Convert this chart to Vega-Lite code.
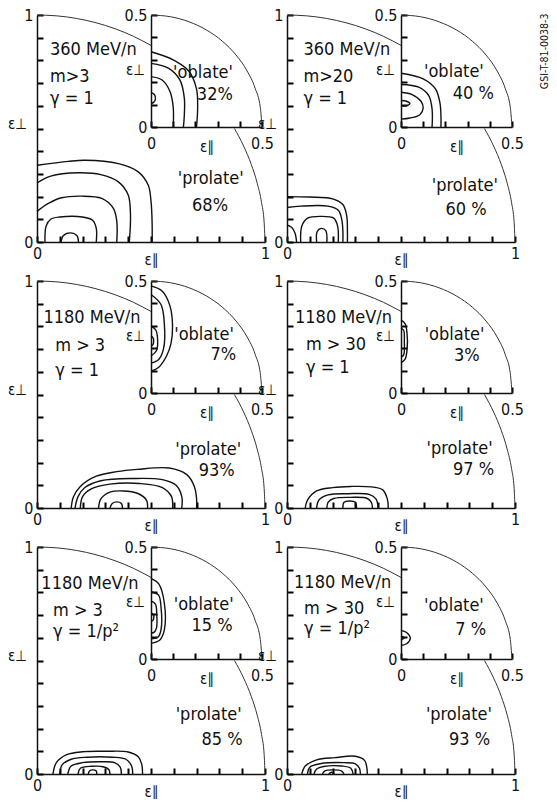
{
"$schema": "https://vega.github.io/schema/vega-lite/v6.json",
"background": "white",
"padding": {"left": 7, "top": 7, "right": 0, "bottom": 0},
"config": {"view": {"stroke": null}, "header": {"labels": false, "title": null, "labelFontSize": 0, "labelPadding": 0, "titlePadding": 0}, "axis": {"ticks": true, "tickColor": "#000", "tickWidth": 2, "tickSize": -6}},
"data": {"values": [
{"p":1,"k":"a","c":"u","i":0,"x":0,"y":1},{"p":1,"k":"a","c":"u","i":1,"x":0.0872,"y":0.9962},{"p":1,"k":"a","c":"u","i":2,"x":0.1736,"y":0.9848},{"p":1,"k":"a","c":"u","i":3,"x":0.2588,"y":0.9659},{"p":1,"k":"a","c":"u","i":4,"x":0.342,"y":0.9397},{"p":1,"k":"a","c":"u","i":5,"x":0.4226,"y":0.9063},{"p":1,"k":"a","c":"u","i":6,"x":0.5,"y":0.866},
{"p":1,"k":"a","c":"l","i":0,"x":0.866,"y":0.5},{"p":1,"k":"a","c":"l","i":1,"x":0.9063,"y":0.4226},{"p":1,"k":"a","c":"l","i":2,"x":0.9397,"y":0.342},{"p":1,"k":"a","c":"l","i":3,"x":0.9659,"y":0.2588},{"p":1,"k":"a","c":"l","i":4,"x":0.9848,"y":0.1736},{"p":1,"k":"a","c":"l","i":5,"x":0.9962,"y":0.0872},{"p":1,"k":"a","c":"l","i":6,"x":1,"y":0},
{"p":1,"k":"b","c":"r","i":0,"x":0,"y":0.5},{"p":1,"k":"b","c":"r","i":1,"x":0.0868,"y":0.4924},{"p":1,"k":"b","c":"r","i":2,"x":0.171,"y":0.4698},{"p":1,"k":"b","c":"r","i":3,"x":0.25,"y":0.433},{"p":1,"k":"b","c":"r","i":4,"x":0.3214,"y":0.383},{"p":1,"k":"b","c":"r","i":5,"x":0.383,"y":0.3214},{"p":1,"k":"b","c":"r","i":6,"x":0.433,"y":0.25},{"p":1,"k":"b","c":"r","i":7,"x":0.4698,"y":0.171},{"p":1,"k":"b","c":"r","i":8,"x":0.4924,"y":0.0868},{"p":1,"k":"b","c":"r","i":9,"x":0.5,"y":0},
{"p":2,"k":"a","c":"u","i":0,"x":0,"y":1},{"p":2,"k":"a","c":"u","i":1,"x":0.0872,"y":0.9962},{"p":2,"k":"a","c":"u","i":2,"x":0.1736,"y":0.9848},{"p":2,"k":"a","c":"u","i":3,"x":0.2588,"y":0.9659},{"p":2,"k":"a","c":"u","i":4,"x":0.342,"y":0.9397},{"p":2,"k":"a","c":"u","i":5,"x":0.4226,"y":0.9063},{"p":2,"k":"a","c":"u","i":6,"x":0.5,"y":0.866},
{"p":2,"k":"a","c":"l","i":0,"x":0.866,"y":0.5},{"p":2,"k":"a","c":"l","i":1,"x":0.9063,"y":0.4226},{"p":2,"k":"a","c":"l","i":2,"x":0.9397,"y":0.342},{"p":2,"k":"a","c":"l","i":3,"x":0.9659,"y":0.2588},{"p":2,"k":"a","c":"l","i":4,"x":0.9848,"y":0.1736},{"p":2,"k":"a","c":"l","i":5,"x":0.9962,"y":0.0872},{"p":2,"k":"a","c":"l","i":6,"x":1,"y":0},
{"p":2,"k":"b","c":"r","i":0,"x":0,"y":0.5},{"p":2,"k":"b","c":"r","i":1,"x":0.0868,"y":0.4924},{"p":2,"k":"b","c":"r","i":2,"x":0.171,"y":0.4698},{"p":2,"k":"b","c":"r","i":3,"x":0.25,"y":0.433},{"p":2,"k":"b","c":"r","i":4,"x":0.3214,"y":0.383},{"p":2,"k":"b","c":"r","i":5,"x":0.383,"y":0.3214},{"p":2,"k":"b","c":"r","i":6,"x":0.433,"y":0.25},{"p":2,"k":"b","c":"r","i":7,"x":0.4698,"y":0.171},{"p":2,"k":"b","c":"r","i":8,"x":0.4924,"y":0.0868},{"p":2,"k":"b","c":"r","i":9,"x":0.5,"y":0},
{"p":3,"k":"a","c":"u","i":0,"x":0,"y":1},{"p":3,"k":"a","c":"u","i":1,"x":0.0872,"y":0.9962},{"p":3,"k":"a","c":"u","i":2,"x":0.1736,"y":0.9848},{"p":3,"k":"a","c":"u","i":3,"x":0.2588,"y":0.9659},{"p":3,"k":"a","c":"u","i":4,"x":0.342,"y":0.9397},{"p":3,"k":"a","c":"u","i":5,"x":0.4226,"y":0.9063},{"p":3,"k":"a","c":"u","i":6,"x":0.5,"y":0.866},
{"p":3,"k":"a","c":"l","i":0,"x":0.866,"y":0.5},{"p":3,"k":"a","c":"l","i":1,"x":0.9063,"y":0.4226},{"p":3,"k":"a","c":"l","i":2,"x":0.9397,"y":0.342},{"p":3,"k":"a","c":"l","i":3,"x":0.9659,"y":0.2588},{"p":3,"k":"a","c":"l","i":4,"x":0.9848,"y":0.1736},{"p":3,"k":"a","c":"l","i":5,"x":0.9962,"y":0.0872},{"p":3,"k":"a","c":"l","i":6,"x":1,"y":0},
{"p":3,"k":"b","c":"r","i":0,"x":0,"y":0.5},{"p":3,"k":"b","c":"r","i":1,"x":0.0868,"y":0.4924},{"p":3,"k":"b","c":"r","i":2,"x":0.171,"y":0.4698},{"p":3,"k":"b","c":"r","i":3,"x":0.25,"y":0.433},{"p":3,"k":"b","c":"r","i":4,"x":0.3214,"y":0.383},{"p":3,"k":"b","c":"r","i":5,"x":0.383,"y":0.3214},{"p":3,"k":"b","c":"r","i":6,"x":0.433,"y":0.25},{"p":3,"k":"b","c":"r","i":7,"x":0.4698,"y":0.171},{"p":3,"k":"b","c":"r","i":8,"x":0.4924,"y":0.0868},{"p":3,"k":"b","c":"r","i":9,"x":0.5,"y":0},
{"p":4,"k":"a","c":"u","i":0,"x":0,"y":1},{"p":4,"k":"a","c":"u","i":1,"x":0.0872,"y":0.9962},{"p":4,"k":"a","c":"u","i":2,"x":0.1736,"y":0.9848},{"p":4,"k":"a","c":"u","i":3,"x":0.2588,"y":0.9659},{"p":4,"k":"a","c":"u","i":4,"x":0.342,"y":0.9397},{"p":4,"k":"a","c":"u","i":5,"x":0.4226,"y":0.9063},{"p":4,"k":"a","c":"u","i":6,"x":0.5,"y":0.866},
{"p":4,"k":"a","c":"l","i":0,"x":0.866,"y":0.5},{"p":4,"k":"a","c":"l","i":1,"x":0.9063,"y":0.4226},{"p":4,"k":"a","c":"l","i":2,"x":0.9397,"y":0.342},{"p":4,"k":"a","c":"l","i":3,"x":0.9659,"y":0.2588},{"p":4,"k":"a","c":"l","i":4,"x":0.9848,"y":0.1736},{"p":4,"k":"a","c":"l","i":5,"x":0.9962,"y":0.0872},{"p":4,"k":"a","c":"l","i":6,"x":1,"y":0},
{"p":4,"k":"b","c":"r","i":0,"x":0,"y":0.5},{"p":4,"k":"b","c":"r","i":1,"x":0.0868,"y":0.4924},{"p":4,"k":"b","c":"r","i":2,"x":0.171,"y":0.4698},{"p":4,"k":"b","c":"r","i":3,"x":0.25,"y":0.433},{"p":4,"k":"b","c":"r","i":4,"x":0.3214,"y":0.383},{"p":4,"k":"b","c":"r","i":5,"x":0.383,"y":0.3214},{"p":4,"k":"b","c":"r","i":6,"x":0.433,"y":0.25},{"p":4,"k":"b","c":"r","i":7,"x":0.4698,"y":0.171},{"p":4,"k":"b","c":"r","i":8,"x":0.4924,"y":0.0868},{"p":4,"k":"b","c":"r","i":9,"x":0.5,"y":0},
{"p":5,"k":"a","c":"u","i":0,"x":0,"y":1},{"p":5,"k":"a","c":"u","i":1,"x":0.0872,"y":0.9962},{"p":5,"k":"a","c":"u","i":2,"x":0.1736,"y":0.9848},{"p":5,"k":"a","c":"u","i":3,"x":0.2588,"y":0.9659},{"p":5,"k":"a","c":"u","i":4,"x":0.342,"y":0.9397},{"p":5,"k":"a","c":"u","i":5,"x":0.4226,"y":0.9063},{"p":5,"k":"a","c":"u","i":6,"x":0.5,"y":0.866},
{"p":5,"k":"a","c":"l","i":0,"x":0.866,"y":0.5},{"p":5,"k":"a","c":"l","i":1,"x":0.9063,"y":0.4226},{"p":5,"k":"a","c":"l","i":2,"x":0.9397,"y":0.342},{"p":5,"k":"a","c":"l","i":3,"x":0.9659,"y":0.2588},{"p":5,"k":"a","c":"l","i":4,"x":0.9848,"y":0.1736},{"p":5,"k":"a","c":"l","i":5,"x":0.9962,"y":0.0872},{"p":5,"k":"a","c":"l","i":6,"x":1,"y":0},
{"p":5,"k":"b","c":"r","i":0,"x":0,"y":0.5},{"p":5,"k":"b","c":"r","i":1,"x":0.0868,"y":0.4924},{"p":5,"k":"b","c":"r","i":2,"x":0.171,"y":0.4698},{"p":5,"k":"b","c":"r","i":3,"x":0.25,"y":0.433},{"p":5,"k":"b","c":"r","i":4,"x":0.3214,"y":0.383},{"p":5,"k":"b","c":"r","i":5,"x":0.383,"y":0.3214},{"p":5,"k":"b","c":"r","i":6,"x":0.433,"y":0.25},{"p":5,"k":"b","c":"r","i":7,"x":0.4698,"y":0.171},{"p":5,"k":"b","c":"r","i":8,"x":0.4924,"y":0.0868},{"p":5,"k":"b","c":"r","i":9,"x":0.5,"y":0},
{"p":6,"k":"a","c":"u","i":0,"x":0,"y":1},{"p":6,"k":"a","c":"u","i":1,"x":0.0872,"y":0.9962},{"p":6,"k":"a","c":"u","i":2,"x":0.1736,"y":0.9848},{"p":6,"k":"a","c":"u","i":3,"x":0.2588,"y":0.9659},{"p":6,"k":"a","c":"u","i":4,"x":0.342,"y":0.9397},{"p":6,"k":"a","c":"u","i":5,"x":0.4226,"y":0.9063},{"p":6,"k":"a","c":"u","i":6,"x":0.5,"y":0.866},
{"p":6,"k":"a","c":"l","i":0,"x":0.866,"y":0.5},{"p":6,"k":"a","c":"l","i":1,"x":0.9063,"y":0.4226},{"p":6,"k":"a","c":"l","i":2,"x":0.9397,"y":0.342},{"p":6,"k":"a","c":"l","i":3,"x":0.9659,"y":0.2588},{"p":6,"k":"a","c":"l","i":4,"x":0.9848,"y":0.1736},{"p":6,"k":"a","c":"l","i":5,"x":0.9962,"y":0.0872},{"p":6,"k":"a","c":"l","i":6,"x":1,"y":0},
{"p":6,"k":"b","c":"r","i":0,"x":0,"y":0.5},{"p":6,"k":"b","c":"r","i":1,"x":0.0868,"y":0.4924},{"p":6,"k":"b","c":"r","i":2,"x":0.171,"y":0.4698},{"p":6,"k":"b","c":"r","i":3,"x":0.25,"y":0.433},{"p":6,"k":"b","c":"r","i":4,"x":0.3214,"y":0.383},{"p":6,"k":"b","c":"r","i":5,"x":0.383,"y":0.3214},{"p":6,"k":"b","c":"r","i":6,"x":0.433,"y":0.25},{"p":6,"k":"b","c":"r","i":7,"x":0.4698,"y":0.171},{"p":6,"k":"b","c":"r","i":8,"x":0.4924,"y":0.0868},{"p":6,"k":"b","c":"r","i":9,"x":0.5,"y":0},

{"p":1,"k":"o","c":"A","i":0,"x":0,"y":0.338},{"p":1,"k":"o","c":"A","i":1,"x":0.137,"y":0.355},{"p":1,"k":"o","c":"A","i":2,"x":0.21,"y":0.36},{"p":1,"k":"o","c":"A","i":3,"x":0.357,"y":0.345},{"p":1,"k":"o","c":"A","i":4,"x":0.444,"y":0.309},{"p":1,"k":"o","c":"A","i":5,"x":0.488,"y":0.25},{"p":1,"k":"o","c":"A","i":6,"x":0.5,"y":0.18},{"p":1,"k":"o","c":"A","i":7,"x":0.505,"y":0.08},{"p":1,"k":"o","c":"A","i":8,"x":0.505,"y":0},
{"p":1,"k":"o","c":"B","i":0,"x":0,"y":0.26},{"p":1,"k":"o","c":"B","i":1,"x":0.06,"y":0.29},{"p":1,"k":"o","c":"B","i":2,"x":0.18,"y":0.305},{"p":1,"k":"o","c":"B","i":3,"x":0.28,"y":0.297},{"p":1,"k":"o","c":"B","i":4,"x":0.357,"y":0.265},{"p":1,"k":"o","c":"B","i":5,"x":0.4,"y":0.207},{"p":1,"k":"o","c":"B","i":6,"x":0.41,"y":0.12},{"p":1,"k":"o","c":"B","i":7,"x":0.405,"y":0},
{"p":1,"k":"o","c":"C","i":0,"x":0,"y":0.135},{"p":1,"k":"o","c":"C","i":1,"x":0.05,"y":0.17},{"p":1,"k":"o","c":"C","i":2,"x":0.108,"y":0.195},{"p":1,"k":"o","c":"C","i":3,"x":0.196,"y":0.202},{"p":1,"k":"o","c":"C","i":4,"x":0.284,"y":0.192},{"p":1,"k":"o","c":"C","i":5,"x":0.335,"y":0.148},{"p":1,"k":"o","c":"C","i":6,"x":0.35,"y":0.09},{"p":1,"k":"o","c":"C","i":7,"x":0.35,"y":0},
{"p":1,"k":"o","c":"D","i":0,"x":0.035,"y":0},{"p":1,"k":"o","c":"D","i":1,"x":0.04,"y":0.07},{"p":1,"k":"o","c":"D","i":2,"x":0.06,"y":0.1},{"p":1,"k":"o","c":"D","i":3,"x":0.1,"y":0.11},{"p":1,"k":"o","c":"D","i":4,"x":0.2,"y":0.11},{"p":1,"k":"o","c":"D","i":5,"x":0.245,"y":0.095},{"p":1,"k":"o","c":"D","i":6,"x":0.26,"y":0.06},{"p":1,"k":"o","c":"D","i":7,"x":0.26,"y":0},
{"p":1,"k":"o","c":"E","i":0,"x":0.105,"y":0},{"p":1,"k":"o","c":"E","i":1,"x":0.115,"y":0.028},{"p":1,"k":"o","c":"E","i":2,"x":0.145,"y":0.04},{"p":1,"k":"o","c":"E","i":3,"x":0.175,"y":0.028},{"p":1,"k":"o","c":"E","i":4,"x":0.182,"y":0},
{"p":1,"k":"n","c":"I1","i":0,"x":0,"y":0.336},{"p":1,"k":"n","c":"I1","i":1,"x":0.1,"y":0.3},{"p":1,"k":"n","c":"I1","i":2,"x":0.17,"y":0.25},{"p":1,"k":"n","c":"I1","i":3,"x":0.205,"y":0.17},{"p":1,"k":"n","c":"I1","i":4,"x":0.21,"y":0.08},{"p":1,"k":"n","c":"I1","i":5,"x":0.205,"y":0},
{"p":1,"k":"n","c":"I2","i":0,"x":0,"y":0.284},{"p":1,"k":"n","c":"I2","i":1,"x":0.08,"y":0.262},{"p":1,"k":"n","c":"I2","i":2,"x":0.13,"y":0.21},{"p":1,"k":"n","c":"I2","i":3,"x":0.15,"y":0.13},{"p":1,"k":"n","c":"I2","i":4,"x":0.15,"y":0.05},{"p":1,"k":"n","c":"I2","i":5,"x":0.146,"y":0},
{"p":1,"k":"n","c":"I3","i":0,"x":0,"y":0.225},{"p":1,"k":"n","c":"I3","i":1,"x":0.05,"y":0.21},{"p":1,"k":"n","c":"I3","i":2,"x":0.085,"y":0.16},{"p":1,"k":"n","c":"I3","i":3,"x":0.1,"y":0.09},{"p":1,"k":"n","c":"I3","i":4,"x":0.1,"y":0},
{"p":1,"k":"n","c":"I4","i":0,"x":0,"y":0.155},{"p":1,"k":"n","c":"I4","i":1,"x":0.015,"y":0.145},{"p":1,"k":"n","c":"I4","i":2,"x":0.02,"y":0.125},{"p":1,"k":"n","c":"I4","i":3,"x":0.012,"y":0.11},{"p":1,"k":"n","c":"I4","i":4,"x":0,"y":0.105},

{"p":2,"k":"o","c":"A","i":0,"x":0,"y":0.2},{"p":2,"k":"o","c":"A","i":1,"x":0.1,"y":0.198},{"p":2,"k":"o","c":"A","i":2,"x":0.2,"y":0.19},{"p":2,"k":"o","c":"A","i":3,"x":0.245,"y":0.165},{"p":2,"k":"o","c":"A","i":4,"x":0.262,"y":0.115},{"p":2,"k":"o","c":"A","i":5,"x":0.265,"y":0.05},{"p":2,"k":"o","c":"A","i":6,"x":0.265,"y":0},
{"p":2,"k":"o","c":"B","i":0,"x":0,"y":0.152},{"p":2,"k":"o","c":"B","i":1,"x":0.06,"y":0.158},{"p":2,"k":"o","c":"B","i":2,"x":0.18,"y":0.158},{"p":2,"k":"o","c":"B","i":3,"x":0.225,"y":0.14},{"p":2,"k":"o","c":"B","i":4,"x":0.24,"y":0.1},{"p":2,"k":"o","c":"B","i":5,"x":0.245,"y":0.05},{"p":2,"k":"o","c":"B","i":6,"x":0.245,"y":0},
{"p":2,"k":"o","c":"C","i":0,"x":0.06,"y":0},{"p":2,"k":"o","c":"C","i":1,"x":0.065,"y":0.07},{"p":2,"k":"o","c":"C","i":2,"x":0.09,"y":0.105},{"p":2,"k":"o","c":"C","i":3,"x":0.15,"y":0.113},{"p":2,"k":"o","c":"C","i":4,"x":0.205,"y":0.105},{"p":2,"k":"o","c":"C","i":5,"x":0.222,"y":0.07},{"p":2,"k":"o","c":"C","i":6,"x":0.225,"y":0},
{"p":2,"k":"o","c":"D","i":0,"x":0,"y":0.075},{"p":2,"k":"o","c":"D","i":1,"x":0.02,"y":0.065},{"p":2,"k":"o","c":"D","i":2,"x":0.035,"y":0.04},{"p":2,"k":"o","c":"D","i":3,"x":0.042,"y":0},
{"p":2,"k":"o","c":"E","i":0,"x":0.13,"y":0},{"p":2,"k":"o","c":"E","i":1,"x":0.132,"y":0.045},{"p":2,"k":"o","c":"E","i":2,"x":0.15,"y":0.06},{"p":2,"k":"o","c":"E","i":3,"x":0.17,"y":0.05},{"p":2,"k":"o","c":"E","i":4,"x":0.175,"y":0},
{"p":2,"k":"n","c":"I1","i":0,"x":0,"y":0.24},{"p":2,"k":"n","c":"I1","i":1,"x":0.1,"y":0.215},{"p":2,"k":"n","c":"I1","i":2,"x":0.155,"y":0.17},{"p":2,"k":"n","c":"I1","i":3,"x":0.175,"y":0.11},{"p":2,"k":"n","c":"I1","i":4,"x":0.18,"y":0.05},{"p":2,"k":"n","c":"I1","i":5,"x":0.18,"y":0},
{"p":2,"k":"n","c":"I2","i":0,"x":0,"y":0.19},{"p":2,"k":"n","c":"I2","i":1,"x":0.08,"y":0.178},{"p":2,"k":"n","c":"I2","i":2,"x":0.125,"y":0.14},{"p":2,"k":"n","c":"I2","i":3,"x":0.14,"y":0.08},{"p":2,"k":"n","c":"I2","i":4,"x":0.14,"y":0},
{"p":2,"k":"n","c":"I3","i":0,"x":0,"y":0.155},{"p":2,"k":"n","c":"I3","i":1,"x":0.05,"y":0.145},{"p":2,"k":"n","c":"I3","i":2,"x":0.09,"y":0.115},{"p":2,"k":"n","c":"I3","i":3,"x":0.1,"y":0.085},{"p":2,"k":"n","c":"I3","i":4,"x":0.085,"y":0.055},{"p":2,"k":"n","c":"I3","i":5,"x":0.04,"y":0.04},{"p":2,"k":"n","c":"I3","i":6,"x":0,"y":0.035},
{"p":2,"k":"n","c":"I4","i":0,"x":0,"y":0.118},{"p":2,"k":"n","c":"I4","i":1,"x":0.025,"y":0.115},{"p":2,"k":"n","c":"I4","i":2,"x":0.04,"y":0.105},{"p":2,"k":"n","c":"I4","i":3,"x":0.025,"y":0.095},{"p":2,"k":"n","c":"I4","i":4,"x":0,"y":0.095},

{"p":3,"k":"o","c":"A","i":0,"x":0.15,"y":0},{"p":3,"k":"o","c":"A","i":1,"x":0.16,"y":0.05},{"p":3,"k":"o","c":"A","i":2,"x":0.19,"y":0.095},{"p":3,"k":"o","c":"A","i":3,"x":0.26,"y":0.14},{"p":3,"k":"o","c":"A","i":4,"x":0.35,"y":0.16},{"p":3,"k":"o","c":"A","i":5,"x":0.44,"y":0.17},{"p":3,"k":"o","c":"A","i":6,"x":0.58,"y":0.176},{"p":3,"k":"o","c":"A","i":7,"x":0.657,"y":0.147},{"p":3,"k":"o","c":"A","i":8,"x":0.69,"y":0.095},{"p":3,"k":"o","c":"A","i":9,"x":0.7,"y":0.04},{"p":3,"k":"o","c":"A","i":10,"x":0.7,"y":0},
{"p":3,"k":"o","c":"B","i":0,"x":0.167,"y":0},{"p":3,"k":"o","c":"B","i":1,"x":0.18,"y":0.05},{"p":3,"k":"o","c":"B","i":2,"x":0.21,"y":0.09},{"p":3,"k":"o","c":"B","i":3,"x":0.28,"y":0.12},{"p":3,"k":"o","c":"B","i":4,"x":0.42,"y":0.13},{"p":3,"k":"o","c":"B","i":5,"x":0.55,"y":0.125},{"p":3,"k":"o","c":"B","i":6,"x":0.61,"y":0.1},{"p":3,"k":"o","c":"B","i":7,"x":0.635,"y":0.05},{"p":3,"k":"o","c":"B","i":8,"x":0.635,"y":0},
{"p":3,"k":"o","c":"C","i":0,"x":0.19,"y":0},{"p":3,"k":"o","c":"C","i":1,"x":0.2,"y":0.05},{"p":3,"k":"o","c":"C","i":2,"x":0.24,"y":0.085},{"p":3,"k":"o","c":"C","i":3,"x":0.32,"y":0.105},{"p":3,"k":"o","c":"C","i":4,"x":0.45,"y":0.108},{"p":3,"k":"o","c":"C","i":5,"x":0.55,"y":0.09},{"p":3,"k":"o","c":"C","i":6,"x":0.59,"y":0.05},{"p":3,"k":"o","c":"C","i":7,"x":0.595,"y":0},
{"p":3,"k":"o","c":"D","i":0,"x":0.27,"y":0},{"p":3,"k":"o","c":"D","i":1,"x":0.28,"y":0.04},{"p":3,"k":"o","c":"D","i":2,"x":0.32,"y":0.07},{"p":3,"k":"o","c":"D","i":3,"x":0.38,"y":0.075},{"p":3,"k":"o","c":"D","i":4,"x":0.44,"y":0.065},{"p":3,"k":"o","c":"D","i":5,"x":0.48,"y":0.035},{"p":3,"k":"o","c":"D","i":6,"x":0.485,"y":0},
{"p":3,"k":"o","c":"E","i":0,"x":0.32,"y":0},{"p":3,"k":"o","c":"E","i":1,"x":0.33,"y":0.02},{"p":3,"k":"o","c":"E","i":2,"x":0.35,"y":0.027},{"p":3,"k":"o","c":"E","i":3,"x":0.37,"y":0.02},{"p":3,"k":"o","c":"E","i":4,"x":0.375,"y":0},
{"p":3,"k":"n","c":"I1","i":0,"x":0,"y":0.478},{"p":3,"k":"n","c":"I1","i":1,"x":0.05,"y":0.455},{"p":3,"k":"n","c":"I1","i":2,"x":0.085,"y":0.39},{"p":3,"k":"n","c":"I1","i":3,"x":0.097,"y":0.3},{"p":3,"k":"n","c":"I1","i":4,"x":0.09,"y":0.22},{"p":3,"k":"n","c":"I1","i":5,"x":0.07,"y":0.165},{"p":3,"k":"n","c":"I1","i":6,"x":0.035,"y":0.115},{"p":3,"k":"n","c":"I1","i":7,"x":0,"y":0.097},
{"p":3,"k":"n","c":"I2","i":0,"x":0,"y":0.44},{"p":3,"k":"n","c":"I2","i":1,"x":0.045,"y":0.395},{"p":3,"k":"n","c":"I2","i":2,"x":0.06,"y":0.31},{"p":3,"k":"n","c":"I2","i":3,"x":0.057,"y":0.2},{"p":3,"k":"n","c":"I2","i":4,"x":0.035,"y":0.15},{"p":3,"k":"n","c":"I2","i":5,"x":0,"y":0.134},
{"p":3,"k":"n","c":"I3","i":0,"x":0,"y":0.3},{"p":3,"k":"n","c":"I3","i":1,"x":0.022,"y":0.28},{"p":3,"k":"n","c":"I3","i":2,"x":0.03,"y":0.235},{"p":3,"k":"n","c":"I3","i":3,"x":0.025,"y":0.19},{"p":3,"k":"n","c":"I3","i":4,"x":0,"y":0.165},
{"p":3,"k":"n","c":"I4","i":0,"x":0,"y":0.255},{"p":3,"k":"n","c":"I4","i":1,"x":0.01,"y":0.245},{"p":3,"k":"n","c":"I4","i":2,"x":0.012,"y":0.23},{"p":3,"k":"n","c":"I4","i":3,"x":0.008,"y":0.215},{"p":3,"k":"n","c":"I4","i":4,"x":0,"y":0.21},

{"p":4,"k":"o","c":"A","i":0,"x":0.08,"y":0},{"p":4,"k":"o","c":"A","i":1,"x":0.09,"y":0.035},{"p":4,"k":"o","c":"A","i":2,"x":0.13,"y":0.075},{"p":4,"k":"o","c":"A","i":3,"x":0.2,"y":0.09},{"p":4,"k":"o","c":"A","i":4,"x":0.28,"y":0.095},{"p":4,"k":"o","c":"A","i":5,"x":0.37,"y":0.093},{"p":4,"k":"o","c":"A","i":6,"x":0.42,"y":0.08},{"p":4,"k":"o","c":"A","i":7,"x":0.44,"y":0.04},{"p":4,"k":"o","c":"A","i":8,"x":0.444,"y":0},
{"p":4,"k":"o","c":"B","i":0,"x":0.13,"y":0},{"p":4,"k":"o","c":"B","i":1,"x":0.14,"y":0.035},{"p":4,"k":"o","c":"B","i":2,"x":0.18,"y":0.058},{"p":4,"k":"o","c":"B","i":3,"x":0.27,"y":0.063},{"p":4,"k":"o","c":"B","i":4,"x":0.36,"y":0.06},{"p":4,"k":"o","c":"B","i":5,"x":0.39,"y":0.04},{"p":4,"k":"o","c":"B","i":6,"x":0.4,"y":0},
{"p":4,"k":"o","c":"C","i":0,"x":0.175,"y":0},{"p":4,"k":"o","c":"C","i":1,"x":0.18,"y":0.025},{"p":4,"k":"o","c":"C","i":2,"x":0.205,"y":0.042},{"p":4,"k":"o","c":"C","i":3,"x":0.28,"y":0.047},{"p":4,"k":"o","c":"C","i":4,"x":0.35,"y":0.043},{"p":4,"k":"o","c":"C","i":5,"x":0.37,"y":0.025},{"p":4,"k":"o","c":"C","i":6,"x":0.375,"y":0},
{"p":4,"k":"o","c":"D","i":0,"x":0.245,"y":0},{"p":4,"k":"o","c":"D","i":1,"x":0.25,"y":0.025},{"p":4,"k":"o","c":"D","i":2,"x":0.275,"y":0.031},{"p":4,"k":"o","c":"D","i":3,"x":0.3,"y":0.025},{"p":4,"k":"o","c":"D","i":4,"x":0.305,"y":0},
{"p":4,"k":"n","c":"I1","i":0,"x":0,"y":0.325},{"p":4,"k":"n","c":"I1","i":1,"x":0.018,"y":0.31},{"p":4,"k":"n","c":"I1","i":2,"x":0.027,"y":0.27},{"p":4,"k":"n","c":"I1","i":3,"x":0.027,"y":0.19},{"p":4,"k":"n","c":"I1","i":4,"x":0.018,"y":0.15},{"p":4,"k":"n","c":"I1","i":5,"x":0,"y":0.135},
{"p":4,"k":"n","c":"I2","i":0,"x":0,"y":0.29},{"p":4,"k":"n","c":"I2","i":1,"x":0.012,"y":0.28},{"p":4,"k":"n","c":"I2","i":2,"x":0.015,"y":0.23},{"p":4,"k":"n","c":"I2","i":3,"x":0.012,"y":0.17},{"p":4,"k":"n","c":"I2","i":4,"x":0,"y":0.16},

{"p":5,"k":"o","c":"A","i":0,"x":0.07,"y":0},{"p":5,"k":"o","c":"A","i":1,"x":0.085,"y":0.05},{"p":5,"k":"o","c":"A","i":2,"x":0.13,"y":0.085},{"p":5,"k":"o","c":"A","i":3,"x":0.2,"y":0.098},{"p":5,"k":"o","c":"A","i":4,"x":0.3,"y":0.1},{"p":5,"k":"o","c":"A","i":5,"x":0.4,"y":0.097},{"p":5,"k":"o","c":"A","i":6,"x":0.445,"y":0.075},{"p":5,"k":"o","c":"A","i":7,"x":0.46,"y":0.04},{"p":5,"k":"o","c":"A","i":8,"x":0.463,"y":0},
{"p":5,"k":"o","c":"B","i":0,"x":0.1,"y":0},{"p":5,"k":"o","c":"B","i":1,"x":0.11,"y":0.04},{"p":5,"k":"o","c":"B","i":2,"x":0.15,"y":0.065},{"p":5,"k":"o","c":"B","i":3,"x":0.22,"y":0.074},{"p":5,"k":"o","c":"B","i":4,"x":0.33,"y":0.074},{"p":5,"k":"o","c":"B","i":5,"x":0.39,"y":0.065},{"p":5,"k":"o","c":"B","i":6,"x":0.415,"y":0.035},{"p":5,"k":"o","c":"B","i":7,"x":0.42,"y":0},
{"p":5,"k":"o","c":"C","i":0,"x":0.135,"y":0},{"p":5,"k":"o","c":"C","i":1,"x":0.15,"y":0.035},{"p":5,"k":"o","c":"C","i":2,"x":0.2,"y":0.05},{"p":5,"k":"o","c":"C","i":3,"x":0.28,"y":0.054},{"p":5,"k":"o","c":"C","i":4,"x":0.34,"y":0.05},{"p":5,"k":"o","c":"C","i":5,"x":0.365,"y":0.03},{"p":5,"k":"o","c":"C","i":6,"x":0.37,"y":0},
{"p":5,"k":"o","c":"D","i":0,"x":0.18,"y":0},{"p":5,"k":"o","c":"D","i":1,"x":0.19,"y":0.025},{"p":5,"k":"o","c":"D","i":2,"x":0.24,"y":0.034},{"p":5,"k":"o","c":"D","i":3,"x":0.29,"y":0.032},{"p":5,"k":"o","c":"D","i":4,"x":0.315,"y":0.02},{"p":5,"k":"o","c":"D","i":5,"x":0.32,"y":0},
{"p":5,"k":"o","c":"E","i":0,"x":0.225,"y":0},{"p":5,"k":"o","c":"E","i":1,"x":0.23,"y":0.013},{"p":5,"k":"o","c":"E","i":2,"x":0.245,"y":0.018},{"p":5,"k":"o","c":"E","i":3,"x":0.26,"y":0.013},{"p":5,"k":"o","c":"E","i":4,"x":0.262,"y":0},
{"p":5,"k":"n","c":"I1","i":0,"x":0,"y":0.36},{"p":5,"k":"n","c":"I1","i":1,"x":0.035,"y":0.335},{"p":5,"k":"n","c":"I1","i":2,"x":0.06,"y":0.25},{"p":5,"k":"n","c":"I1","i":3,"x":0.06,"y":0.13},{"p":5,"k":"n","c":"I1","i":4,"x":0.04,"y":0.085},{"p":5,"k":"n","c":"I1","i":5,"x":0,"y":0.07},
{"p":5,"k":"n","c":"I2","i":0,"x":0,"y":0.3},{"p":5,"k":"n","c":"I2","i":1,"x":0.034,"y":0.285},{"p":5,"k":"n","c":"I2","i":2,"x":0.045,"y":0.233},{"p":5,"k":"n","c":"I2","i":3,"x":0.045,"y":0.13},{"p":5,"k":"n","c":"I2","i":4,"x":0.032,"y":0.098},{"p":5,"k":"n","c":"I2","i":5,"x":0,"y":0.09},
{"p":5,"k":"n","c":"I3","i":0,"x":0,"y":0.26},{"p":5,"k":"n","c":"I3","i":1,"x":0.02,"y":0.245},{"p":5,"k":"n","c":"I3","i":2,"x":0.026,"y":0.2},{"p":5,"k":"n","c":"I3","i":3,"x":0.025,"y":0.14},{"p":5,"k":"n","c":"I3","i":4,"x":0.015,"y":0.12},{"p":5,"k":"n","c":"I3","i":5,"x":0,"y":0.115},
{"p":5,"k":"n","c":"I4","i":0,"x":0,"y":0.205},{"p":5,"k":"n","c":"I4","i":1,"x":0.01,"y":0.2},{"p":5,"k":"n","c":"I4","i":2,"x":0.013,"y":0.185},{"p":5,"k":"n","c":"I4","i":3,"x":0.008,"y":0.172},{"p":5,"k":"n","c":"I4","i":4,"x":0,"y":0.17},

{"p":6,"k":"o","c":"A","i":0,"x":0.065,"y":0},{"p":6,"k":"o","c":"A","i":1,"x":0.08,"y":0.035},{"p":6,"k":"o","c":"A","i":2,"x":0.13,"y":0.062},{"p":6,"k":"o","c":"A","i":3,"x":0.21,"y":0.072},{"p":6,"k":"o","c":"A","i":4,"x":0.3,"y":0.078},{"p":6,"k":"o","c":"A","i":5,"x":0.34,"y":0.06},{"p":6,"k":"o","c":"A","i":6,"x":0.35,"y":0.03},{"p":6,"k":"o","c":"A","i":7,"x":0.352,"y":0},
{"p":6,"k":"o","c":"B","i":0,"x":0.09,"y":0},{"p":6,"k":"o","c":"B","i":1,"x":0.1,"y":0.03},{"p":6,"k":"o","c":"B","i":2,"x":0.15,"y":0.046},{"p":6,"k":"o","c":"B","i":3,"x":0.25,"y":0.05},{"p":6,"k":"o","c":"B","i":4,"x":0.3,"y":0.045},{"p":6,"k":"o","c":"B","i":5,"x":0.318,"y":0.025},{"p":6,"k":"o","c":"B","i":6,"x":0.322,"y":0},
{"p":6,"k":"o","c":"C","i":0,"x":0.118,"y":0},{"p":6,"k":"o","c":"C","i":1,"x":0.13,"y":0.022},{"p":6,"k":"o","c":"C","i":2,"x":0.16,"y":0.033},{"p":6,"k":"o","c":"C","i":3,"x":0.24,"y":0.035},{"p":6,"k":"o","c":"C","i":4,"x":0.28,"y":0.025},{"p":6,"k":"o","c":"C","i":5,"x":0.29,"y":0},
{"p":6,"k":"o","c":"D","i":0,"x":0.155,"y":0},{"p":6,"k":"o","c":"D","i":1,"x":0.165,"y":0.013},{"p":6,"k":"o","c":"D","i":2,"x":0.2,"y":0.018},{"p":6,"k":"o","c":"D","i":3,"x":0.24,"y":0.013},{"p":6,"k":"o","c":"D","i":4,"x":0.25,"y":0},
{"p":6,"k":"o","c":"E","i":0,"x":0.183,"y":0},{"p":6,"k":"o","c":"E","i":1,"x":0.195,"y":0.008},{"p":6,"k":"o","c":"E","i":2,"x":0.207,"y":0},
{"p":6,"k":"n","c":"I1","i":0,"x":0,"y":0.128},{"p":6,"k":"n","c":"I1","i":1,"x":0.025,"y":0.118},{"p":6,"k":"n","c":"I1","i":2,"x":0.042,"y":0.093},{"p":6,"k":"n","c":"I1","i":3,"x":0.025,"y":0.068},{"p":6,"k":"n","c":"I1","i":4,"x":0,"y":0.06},
{"p":6,"k":"n","c":"I2","i":0,"x":0,"y":0.103},{"p":6,"k":"n","c":"I2","i":1,"x":0.015,"y":0.095},{"p":6,"k":"n","c":"I2","i":2,"x":0,"y":0.085},

{"p":1,"k":"tl","x":0.057,"y":0.845,"label":"360 MeV/n"},{"p":1,"k":"tl","x":0.057,"y":0.725,"label":"m>3"},{"p":1,"k":"tl","x":0.057,"y":0.63,"label":"γ = 1"},
{"p":2,"k":"tl","x":0.072,"y":0.844,"label":"360 MeV/n"},{"p":2,"k":"tl","x":0.072,"y":0.727,"label":"m>20"},{"p":2,"k":"tl","x":0.072,"y":0.632,"label":"γ = 1"},
{"p":3,"k":"tl","x":0.028,"y":0.838,"label":"1180 MeV/n"},{"p":3,"k":"tl","x":0.08,"y":0.713,"label":"m > 3"},{"p":3,"k":"tl","x":0.08,"y":0.604,"label":"γ = 1"},
{"p":4,"k":"tl","x":0.035,"y":0.839,"label":"1180 MeV/n"},{"p":4,"k":"tl","x":0.083,"y":0.72,"label":"m > 30"},{"p":4,"k":"tl","x":0.083,"y":0.616,"label":"γ = 1"},
{"p":5,"k":"tl","x":0.019,"y":0.839,"label":"1180 MeV/n"},{"p":5,"k":"tl","x":0.07,"y":0.72,"label":"m > 3"},{"p":5,"k":"tl","x":0.07,"y":0.627,"label":"γ = 1/p²"},
{"p":6,"k":"tl","x":0.031,"y":0.843,"label":"1180 MeV/n"},{"p":6,"k":"tl","x":0.075,"y":0.727,"label":"m > 30"},{"p":6,"k":"tl","x":0.075,"y":0.639,"label":"γ = 1/p²"},
{"p":1,"k":"tc","x":0.728,"y":0.746,"label":"'oblate'"},{"p":1,"k":"tc","x":0.78,"y":0.647,"label":"32%"},{"p":1,"k":"tc","x":0.762,"y":0.278,"label":"'prolate'"},{"p":1,"k":"tc","x":0.759,"y":0.16,"label":"68%"},
{"p":2,"k":"tc","x":0.732,"y":0.749,"label":"'oblate'"},{"p":2,"k":"tc","x":0.817,"y":0.654,"label":"40 %"},{"p":2,"k":"tc","x":0.78,"y":0.245,"label":"'prolate'"},{"p":2,"k":"tc","x":0.785,"y":0.14,"label":"60 %"},
{"p":3,"k":"tc","x":0.733,"y":0.76,"label":"'oblate'"},{"p":3,"k":"tc","x":0.817,"y":0.675,"label":"7%"},{"p":3,"k":"tc","x":0.751,"y":0.257,"label":"'prolate'"},{"p":3,"k":"tc","x":0.788,"y":0.165,"label":"93%"},
{"p":4,"k":"tc","x":0.735,"y":0.761,"label":"'oblate'"},{"p":4,"k":"tc","x":0.789,"y":0.668,"label":"3%"},{"p":4,"k":"tc","x":0.757,"y":0.261,"label":"'prolate'"},{"p":4,"k":"tc","x":0.818,"y":0.169,"label":"97 %"},
{"p":5,"k":"tc","x":0.731,"y":0.744,"label":"'oblate'"},{"p":5,"k":"tc","x":0.768,"y":0.653,"label":"15 %"},{"p":5,"k":"tc","x":0.753,"y":0.26,"label":"'prolate'"},{"p":5,"k":"tc","x":0.812,"y":0.151,"label":"85 %"},
{"p":6,"k":"tc","x":0.732,"y":0.738,"label":"'oblate'"},{"p":6,"k":"tc","x":0.806,"y":0.636,"label":"7 %"},{"p":6,"k":"tc","x":0.754,"y":0.259,"label":"'prolate'"},{"p":6,"k":"tc","x":0.801,"y":0.149,"label":"93 %"},
{"p":2,"k":"id","x":1.13,"y":0.84,"label":"GSI-T-81-0038-3"}
]},
"facet": {"field": "p", "type": "ordinal", "header": null},
"columns": 2,
"spacing": {"column": 22, "row": 39},
"bounds": "flush",
"resolve": {"axis": {"x": "independent", "y": "independent"}},
"spec": {
  "width": 228,
  "height": 227,
  "layer": [
    {
      "encoding": {
        "x": {"field": "x", "type": "quantitative", "scale": {"domain": [0, 1], "nice": false, "zero": false},
          "axis": {"values": [0,0.1,0.2,0.3,0.4,0.5,0.6,0.7,0.8,0.9,1], "labelExpr": "datum.value == 0 ? '0' : (datum.value == 1 ? '1' : '')", "grid": false, "ticks": true, "tickSize": -6, "tickWidth": 2, "tickColor": "#000", "domainColor": "#111", "domainWidth": 1.5, "labelPadding": 9, "labelFlush": false, "labelFont": "DejaVu Sans Condensed, sans-serif", "labelFontSize": 16, "labelColor": "#111", "title": "ε∥", "titleFont": "DejaVu Sans Condensed, sans-serif", "titleFontSize": 15, "titleFontWeight": "normal", "titleColor": "#111", "titleY": 17, "titleBaseline": "middle"}},
        "y": {"field": "y", "type": "quantitative", "scale": {"domain": [0, 1], "nice": false, "zero": false},
          "axis": {"values": [0,0.1,0.2,0.3,0.4,0.5,0.6,0.7,0.8,0.9,1], "labelExpr": "datum.value == 0 ? '0' : (datum.value == 1 ? '1' : '')", "grid": false, "ticks": true, "tickSize": -6, "tickWidth": 2, "tickColor": "#000", "domainColor": "#111", "domainWidth": 1.5, "labelPadding": 10, "labelFont": "DejaVu Sans Condensed, sans-serif", "labelFontSize": 16, "labelColor": "#111", "title": "ε⊥", "titleFont": "DejaVu Sans Condensed, sans-serif", "titleFontSize": 15, "titleFontWeight": "normal", "titleColor": "#111", "titleAngle": 0, "titleX": -20, "titleY": 108, "titleAlign": "center", "titleBaseline": "middle"}}
      },
      "layer": [
        {"transform": [{"filter": "datum.k === 'a'"}], "mark": {"type": "line", "interpolate": "monotone", "color": "#333", "strokeWidth": 1}, "encoding": {"detail": {"field": "c"}, "order": {"field": "i", "type": "quantitative"}}},
        {"transform": [{"filter": "datum.k === 'o'"}], "mark": {"type": "line", "interpolate": "catmull-rom", "color": "#111", "strokeWidth": 1.4}, "encoding": {"detail": {"field": "c"}, "order": {"field": "i", "type": "quantitative"}}},
        {"transform": [{"filter": "datum.k === 'tl'"}], "mark": {"type": "text", "align": "left", "baseline": "middle", "font": "DejaVu Sans Condensed, sans-serif", "fontSize": 18, "color": "#111"}, "encoding": {"text": {"field": "label"}}},
        {"transform": [{"filter": "datum.k === 'tc'"}], "mark": {"type": "text", "align": "center", "baseline": "middle", "font": "DejaVu Sans Condensed, sans-serif", "fontSize": 18, "color": "#111"}, "encoding": {"text": {"field": "label"}}},
        {"transform": [{"filter": "datum.k === 'id'"}], "mark": {"type": "text", "align": "center", "baseline": "middle", "angle": 270, "font": "DejaVu Sans Condensed, sans-serif", "fontSize": 10.5, "color": "#111"}, "encoding": {"text": {"field": "label"}}}
      ]
    },
    {
      "encoding": {
        "x": {"field": "x", "type": "quantitative", "scale": {"domain": [0, 0.5], "range": [114, 225], "nice": false, "zero": false},
          "axis": {"orient": "bottom", "offset": -115, "values": [0,0.1,0.2,0.3,0.4,0.5], "labelExpr": "datum.value == 0 ? '0' : (datum.value == 0.5 ? '0.5' : '')", "grid": false, "ticks": true, "tickSize": -6, "tickWidth": 2, "tickColor": "#000", "domainColor": "#111", "domainWidth": 1.5, "labelPadding": 14, "labelFlush": false, "labelFont": "DejaVu Sans Condensed, sans-serif", "labelFontSize": 16, "labelColor": "#111", "title": "ε∥", "titleFont": "DejaVu Sans Condensed, sans-serif", "titleFontSize": 15, "titleFontWeight": "normal", "titleColor": "#111", "titleY": 19, "titleBaseline": "middle"}},
        "y": {"field": "y", "type": "quantitative", "scale": {"domain": [0, 0.5], "range": [112, 0], "nice": false, "zero": false},
          "axis": {"orient": "left", "offset": -114, "values": [0,0.1,0.2,0.3,0.4,0.5], "labelExpr": "datum.value == 0 ? '0' : (datum.value == 0.5 ? '0.5' : '')", "grid": false, "ticks": true, "tickSize": -6, "tickWidth": 2, "tickColor": "#000", "domainColor": "#111", "domainWidth": 1.5, "labelPadding": 10, "labelFont": "DejaVu Sans Condensed, sans-serif", "labelFontSize": 16, "labelColor": "#111", "title": "ε⊥", "titleFont": "DejaVu Sans Condensed, sans-serif", "titleFontSize": 15, "titleFontWeight": "normal", "titleColor": "#111", "titleAngle": 0, "titleX": -16, "titleY": 54, "titleAlign": "center", "titleBaseline": "middle"}}
      },
      "layer": [
        {"transform": [{"filter": "datum.k === 'b'"}], "mark": {"type": "line", "interpolate": "monotone", "color": "#333", "strokeWidth": 1}, "encoding": {"detail": {"field": "c"}, "order": {"field": "i", "type": "quantitative"}}},
        {"transform": [{"filter": "datum.k === 'n'"}], "mark": {"type": "line", "interpolate": "catmull-rom", "color": "#111", "strokeWidth": 1.4}, "encoding": {"detail": {"field": "c"}, "order": {"field": "i", "type": "quantitative"}}}
      ]
    }
  ],
  "resolve": {"scale": {"x": "independent", "y": "independent"}}
}
}
